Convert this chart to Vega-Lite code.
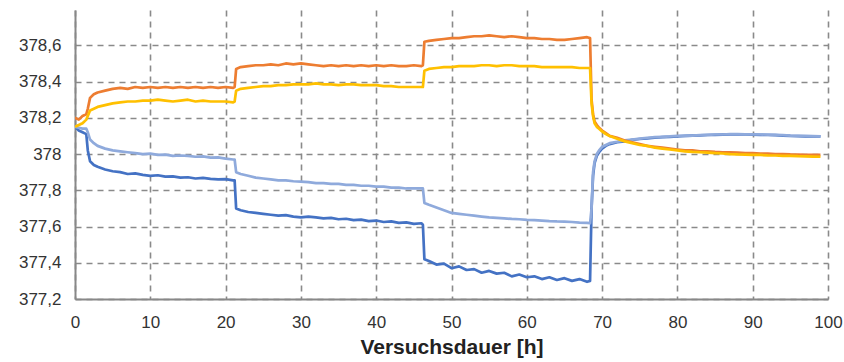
{
  "$schema": "https://vega.github.io/schema/vega-lite/v6.json",
  "width": 753,
  "height": 289,
  "autosize": {"type": "none"},
  "padding": {"left": 75, "top": 10, "right": 16, "bottom": 63},
  "background": "white",
  "config": {
    "view": {"stroke": null},
    "font": "Liberation Sans"
  },
  "data": {
    "values": [
      {"t": 0, "o": 378.20, "g": 378.15, "d": 378.15, "l": 378.15},
      {"t": 0.5, "o": 378.19, "g": 378.16, "d": 378.13, "l": 378.145},
      {"t": 1.0, "o": 378.21, "g": 378.17, "d": 378.12, "l": 378.14},
      {"t": 1.5, "o": 378.22, "g": 378.19, "d": 378.11, "l": 378.14},
      {"t": 1.7, "o": 378.25, "g": 378.21, "d": 378.02, "l": 378.12},
      {"t": 2.0, "o": 378.31, "g": 378.24, "d": 377.96, "l": 378.08},
      {"t": 2.5, "o": 378.33, "g": 378.25, "d": 377.94, "l": 378.06},
      {"t": 3, "o": 378.34, "g": 378.26, "d": 377.93, "l": 378.045},
      {"t": 4, "o": 378.35, "g": 378.27, "d": 377.915, "l": 378.03},
      {"t": 5, "o": 378.36, "g": 378.28, "d": 377.905, "l": 378.02},
      {"t": 6, "o": 378.365, "g": 378.285, "d": 377.90, "l": 378.015},
      {"t": 7, "o": 378.36, "g": 378.29, "d": 377.89, "l": 378.01},
      {"t": 8, "o": 378.37, "g": 378.29, "d": 377.893, "l": 378.005},
      {"t": 9, "o": 378.365, "g": 378.295, "d": 377.885, "l": 378.0},
      {"t": 10, "o": 378.37, "g": 378.295, "d": 377.88, "l": 378.002},
      {"t": 11, "o": 378.365, "g": 378.30, "d": 377.883, "l": 377.995},
      {"t": 12, "o": 378.37, "g": 378.295, "d": 377.875, "l": 377.997},
      {"t": 13, "o": 378.365, "g": 378.29, "d": 377.877, "l": 377.99},
      {"t": 14, "o": 378.37, "g": 378.295, "d": 377.87, "l": 377.992},
      {"t": 15, "o": 378.365, "g": 378.30, "d": 377.872, "l": 377.99},
      {"t": 16, "o": 378.37, "g": 378.29, "d": 377.865, "l": 377.985},
      {"t": 17, "o": 378.365, "g": 378.295, "d": 377.868, "l": 377.987},
      {"t": 18, "o": 378.37, "g": 378.29, "d": 377.863, "l": 377.98},
      {"t": 19, "o": 378.365, "g": 378.29, "d": 377.86, "l": 377.982},
      {"t": 20, "o": 378.37, "g": 378.29, "d": 377.862, "l": 377.975},
      {"t": 21, "o": 378.365, "g": 378.285, "d": 377.855, "l": 377.97},
      {"t": 21.2, "o": 378.37, "g": 378.29, "d": 377.855, "l": 377.97},
      {"t": 21.4, "o": 378.47, "g": 378.35, "d": 377.70, "l": 377.90},
      {"t": 22, "o": 378.48, "g": 378.36, "d": 377.69, "l": 377.89},
      {"t": 23, "o": 378.485, "g": 378.365, "d": 377.68, "l": 377.88},
      {"t": 24, "o": 378.49, "g": 378.37, "d": 377.675, "l": 377.87},
      {"t": 25, "o": 378.49, "g": 378.375, "d": 377.67, "l": 377.865},
      {"t": 26, "o": 378.495, "g": 378.375, "d": 377.665, "l": 377.86},
      {"t": 27, "o": 378.49, "g": 378.38, "d": 377.66, "l": 377.855},
      {"t": 28, "o": 378.50, "g": 378.38, "d": 377.663, "l": 377.855},
      {"t": 29, "o": 378.495, "g": 378.385, "d": 377.655, "l": 377.85},
      {"t": 30, "o": 378.50, "g": 378.385, "d": 377.65, "l": 377.848},
      {"t": 31, "o": 378.495, "g": 378.385, "d": 377.655, "l": 377.845},
      {"t": 32, "o": 378.49, "g": 378.39, "d": 377.65, "l": 377.84},
      {"t": 33, "o": 378.485, "g": 378.385, "d": 377.645, "l": 377.84},
      {"t": 34, "o": 378.49, "g": 378.385, "d": 377.648, "l": 377.835},
      {"t": 35, "o": 378.485, "g": 378.38, "d": 377.64, "l": 377.835},
      {"t": 36, "o": 378.49, "g": 378.385, "d": 377.643, "l": 377.83},
      {"t": 37, "o": 378.485, "g": 378.385, "d": 377.635, "l": 377.83},
      {"t": 38, "o": 378.49, "g": 378.38, "d": 377.638, "l": 377.825},
      {"t": 39, "o": 378.485, "g": 378.38, "d": 377.63, "l": 377.825},
      {"t": 40, "o": 378.49, "g": 378.38, "d": 377.633, "l": 377.82},
      {"t": 41, "o": 378.485, "g": 378.375, "d": 377.625, "l": 377.82},
      {"t": 42, "o": 378.49, "g": 378.375, "d": 377.628, "l": 377.815},
      {"t": 43, "o": 378.485, "g": 378.37, "d": 377.62, "l": 377.815},
      {"t": 44, "o": 378.485, "g": 378.37, "d": 377.623, "l": 377.81},
      {"t": 45, "o": 378.49, "g": 378.37, "d": 377.615, "l": 377.81},
      {"t": 46, "o": 378.485, "g": 378.37, "d": 377.618, "l": 377.81},
      {"t": 46.2, "o": 378.49, "g": 378.37, "d": 377.61, "l": 377.81},
      {"t": 46.4, "o": 378.62, "g": 378.46, "d": 377.42, "l": 377.73},
      {"t": 47, "o": 378.625, "g": 378.47, "d": 377.41, "l": 377.72},
      {"t": 48, "o": 378.63, "g": 378.475, "d": 377.39, "l": 377.705},
      {"t": 49, "o": 378.635, "g": 378.48, "d": 377.395, "l": 377.69},
      {"t": 50, "o": 378.64, "g": 378.48, "d": 377.37, "l": 377.675},
      {"t": 51, "o": 378.64, "g": 378.485, "d": 377.38, "l": 377.67},
      {"t": 52, "o": 378.645, "g": 378.485, "d": 377.36, "l": 377.665},
      {"t": 53, "o": 378.65, "g": 378.485, "d": 377.365, "l": 377.66},
      {"t": 54, "o": 378.65, "g": 378.49, "d": 377.345, "l": 377.655},
      {"t": 55, "o": 378.655, "g": 378.49, "d": 377.355, "l": 377.65},
      {"t": 56, "o": 378.65, "g": 378.485, "d": 377.34, "l": 377.648},
      {"t": 57, "o": 378.645, "g": 378.49, "d": 377.345, "l": 377.645},
      {"t": 58, "o": 378.65, "g": 378.49, "d": 377.325, "l": 377.642},
      {"t": 59, "o": 378.645, "g": 378.485, "d": 377.335, "l": 377.64},
      {"t": 60, "o": 378.64, "g": 378.485, "d": 377.32, "l": 377.637},
      {"t": 61, "o": 378.64, "g": 378.485, "d": 377.325, "l": 377.635},
      {"t": 62, "o": 378.635, "g": 378.48, "d": 377.31, "l": 377.633},
      {"t": 63, "o": 378.635, "g": 378.48, "d": 377.32, "l": 377.63},
      {"t": 64, "o": 378.63, "g": 378.48, "d": 377.305, "l": 377.628},
      {"t": 65, "o": 378.63, "g": 378.48, "d": 377.315, "l": 377.627},
      {"t": 66, "o": 378.635, "g": 378.48, "d": 377.30, "l": 377.625},
      {"t": 67, "o": 378.64, "g": 378.475, "d": 377.31, "l": 377.622},
      {"t": 68, "o": 378.645, "g": 378.475, "d": 377.295, "l": 377.62},
      {"t": 68.4, "o": 378.64, "g": 378.475, "d": 377.30, "l": 377.618},
      {"t": 68.6, "o": 378.30, "g": 378.28, "d": 377.70, "l": 377.70},
      {"t": 68.8, "o": 378.22, "g": 378.21, "d": 377.88, "l": 377.90},
      {"t": 69.0, "o": 378.18, "g": 378.17, "d": 377.95, "l": 377.96},
      {"t": 69.3, "o": 378.16, "g": 378.15, "d": 377.99, "l": 378.0},
      {"t": 69.6, "o": 378.145, "g": 378.14, "d": 378.01, "l": 378.02},
      {"t": 70, "o": 378.13, "g": 378.125, "d": 378.03, "l": 378.04},
      {"t": 70.5, "o": 378.115, "g": 378.11, "d": 378.045, "l": 378.05},
      {"t": 71, "o": 378.10, "g": 378.10, "d": 378.055, "l": 378.06},
      {"t": 72, "o": 378.09, "g": 378.085, "d": 378.065, "l": 378.068},
      {"t": 73, "o": 378.075, "g": 378.07, "d": 378.07, "l": 378.075},
      {"t": 74, "o": 378.065, "g": 378.06, "d": 378.078, "l": 378.08},
      {"t": 75, "o": 378.055, "g": 378.05, "d": 378.083, "l": 378.085},
      {"t": 76, "o": 378.045, "g": 378.045, "d": 378.087, "l": 378.09},
      {"t": 77, "o": 378.04, "g": 378.035, "d": 378.09, "l": 378.093},
      {"t": 78, "o": 378.035, "g": 378.03, "d": 378.093, "l": 378.095},
      {"t": 79, "o": 378.03, "g": 378.025, "d": 378.095, "l": 378.097},
      {"t": 80, "o": 378.025, "g": 378.02, "d": 378.097, "l": 378.1},
      {"t": 81, "o": 378.02, "g": 378.015, "d": 378.1, "l": 378.1},
      {"t": 82, "o": 378.02, "g": 378.012, "d": 378.102, "l": 378.102},
      {"t": 83, "o": 378.015, "g": 378.01, "d": 378.103, "l": 378.104},
      {"t": 84, "o": 378.015, "g": 378.008, "d": 378.105, "l": 378.106},
      {"t": 85, "o": 378.012, "g": 378.005, "d": 378.106, "l": 378.108},
      {"t": 86, "o": 378.01, "g": 378.003, "d": 378.107, "l": 378.108},
      {"t": 87, "o": 378.01, "g": 378.0, "d": 378.108, "l": 378.11},
      {"t": 88, "o": 378.008, "g": 377.998, "d": 378.108, "l": 378.11},
      {"t": 89, "o": 378.005, "g": 377.997, "d": 378.108, "l": 378.109},
      {"t": 90, "o": 378.005, "g": 377.995, "d": 378.107, "l": 378.109},
      {"t": 91, "o": 378.003, "g": 377.995, "d": 378.106, "l": 378.108},
      {"t": 92, "o": 378.002, "g": 377.993, "d": 378.105, "l": 378.107},
      {"t": 93, "o": 378.0, "g": 377.992, "d": 378.104, "l": 378.106},
      {"t": 94, "o": 378.0, "g": 377.99, "d": 378.102, "l": 378.104},
      {"t": 95, "o": 377.998, "g": 377.99, "d": 378.1, "l": 378.102},
      {"t": 96, "o": 377.997, "g": 377.988, "d": 378.099, "l": 378.101},
      {"t": 97, "o": 377.996, "g": 377.987, "d": 378.098, "l": 378.1},
      {"t": 98, "o": 377.995, "g": 377.986, "d": 378.097, "l": 378.099},
      {"t": 99, "o": 377.995, "g": 377.985, "d": 378.097, "l": 378.098}
    ]
  },
  "transform": [
    {"fold": ["d", "l", "o", "g"], "as": ["s", "v"]}
  ],
  "mark": {"type": "line", "strokeWidth": 2.7, "strokeJoin": "round", "clip": true},
  "encoding": {
    "x": {
      "field": "t",
      "type": "quantitative",
      "scale": {"domain": [0, 100], "nice": false, "zero": false},
      "axis": {
        "title": "Versuchsdauer [h]",
        "values": [0, 10, 20, 30, 40, 50, 60, 70, 80, 90, 100],
        "grid": true,
        "gridColor": "#8a8a8a",
        "gridDash": [6, 5],
        "gridWidth": 1.6,
        "ticks": false,
        "labelPadding": 15,
        "labelFontSize": 17,
        "labelColor": "#333333",
        "labelFont": "Liberation Sans",
        "labelFlush": false,
        "domainColor": "#888888",
        "domainWidth": 2,
        "titleFont": "Liberation Sans",
        "titleFontSize": 21,
        "titleFontWeight": "bold",
        "titleColor": "#222222",
        "titlePadding": 6
      }
    },
    "y": {
      "field": "v",
      "type": "quantitative",
      "scale": {"domain": [377.2, 378.795], "nice": false, "zero": false},
      "axis": {
        "title": null,
        "values": [377.2, 377.4, 377.6, 377.8, 378.0, 378.2, 378.4, 378.6],
        "labelExpr": "replace(toString(round(datum.value * 10) / 10), '.', ',')",
        "grid": true,
        "gridColor": "#8a8a8a",
        "gridDash": [6, 5],
        "gridWidth": 1.6,
        "ticks": false,
        "labelPadding": 14,
        "labelFontSize": 17,
        "labelColor": "#333333",
        "labelFont": "Liberation Sans",
        "labelFlush": false,
        "domainColor": "#888888",
        "domainWidth": 2
      }
    },
    "color": {
      "field": "s",
      "type": "nominal",
      "scale": {"domain": ["d", "l", "o", "g"], "range": ["#4472C4", "#8FAADC", "#ED7D31", "#FFC000"]},
      "legend": null
    }
  }
}
